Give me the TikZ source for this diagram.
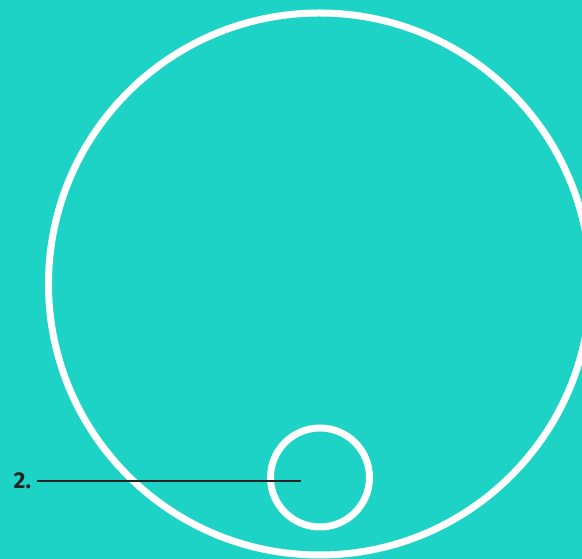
\documentclass[tikz,border=0pt]{standalone}
\usepackage{fontspec}
\setmainfont{Fira Sans}
\definecolor{bgteal}{RGB}{29,211,197}
\definecolor{leader}{RGB}{35,35,35}
\begin{document}
\begin{tikzpicture}[x=1pt,y=1pt,
  ring/.style={draw=white,line width=7pt},
  leaderline/.style={draw=leader,line width=2.6pt},
  lbl/.style={text=leader,font=\fontsize{23}{25}\selectfont\bfseries,inner sep=0pt,anchor=base west}]
\fill[bgteal] (0,0) rectangle (582,559);
\useasboundingbox (0,0) rectangle (582,559);
\begin{scope}
\clip (0,0) rectangle (582,559);
\node[ring,circle,minimum size=542pt,inner sep=0pt] (big) at (319.5,275) {};
\node[ring,circle,minimum size=99pt,inner sep=0pt] (small) at (320,81.5) {};
\end{scope}
\node[lbl] (two) at (13.5,70) {2.};
\coordinate (tip) at (300.5,78);
\draw[leaderline] (37,78) -- (tip);
\end{tikzpicture}
\end{document}
